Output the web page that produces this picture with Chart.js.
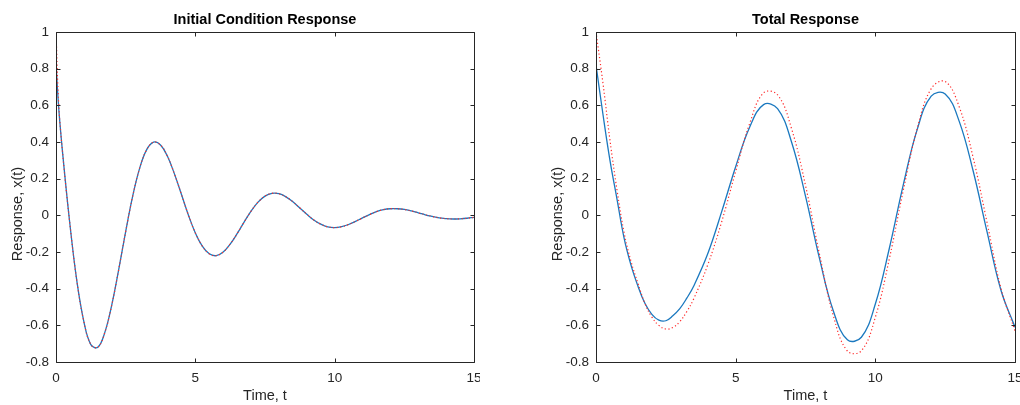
<!DOCTYPE html>
<html>
<head>
<meta charset="utf-8">
<script src="https://cdn.jsdelivr.net/npm/chart.js@4/dist/chart.umd.min.js"></script>
<style>
html, body { margin: 0; padding: 0; background: #fff; }
body { width: 1020px; height: 405px; position: relative; overflow: hidden; }
canvas { position: absolute; top: 0; }
#icChart { left: 0; }
#totalChart { left: 540px; }
</style>
</head>
<body>
<canvas id="icChart" width="480" height="405"></canvas>
<canvas id="totalChart" width="480" height="405"></canvas>
<script>
var xTicks = [0, 5, 10, 15];
var yTicks = [-0.8, -0.6, -0.4, -0.2, 0, 0.2, 0.4, 0.6, 0.8, 1];

// initial condition response
var icTime = [0, 0.1, 0.25, 0.5, 0.75, 1, 1.25, 1.5, 1.75, 2, 2.25, 2.5, 2.75, 3, 3.25, 3.5, 3.75, 4, 4.25, 4.5, 4.75,
    5, 5.25, 5.5, 5.75, 6, 6.25, 6.5, 6.75, 7, 7.25, 7.5, 7.75, 8, 8.25, 8.5, 8.75, 9, 9.25, 9.5, 9.75,
    10, 10.25, 10.5, 10.75, 11, 11.25, 11.5, 11.75, 12, 12.25, 12.5, 12.75, 13, 13.25, 13.5, 13.75, 14, 14.25, 14.5, 14.75, 15];
var icNumeric = [0.83, 0.58, 0.32, -0.05, -0.36, -0.58, -0.705, -0.72, -0.64, -0.49, -0.296, -0.089, 0.103, 0.256, 0.357, 0.399, 0.384, 0.322, 0.226, 0.115, 0.002,
    -0.096, -0.168, -0.21, -0.22, -0.2, -0.157, -0.1, -0.037, 0.023, 0.072, 0.105, 0.12, 0.118, 0.101, 0.074, 0.04, 0.006, -0.025, -0.048, -0.063,
    -0.067, -0.062, -0.05, -0.033, -0.014, 0.004, 0.02, 0.031, 0.036, 0.036, 0.032, 0.024, 0.014, 0.003, -0.006, -0.014, -0.018, -0.02, -0.019, -0.016, -0.011];
var icExact = [1.0, 0.6, 0.32, -0.05, -0.36, -0.58, -0.705, -0.72, -0.64, -0.49, -0.296, -0.089, 0.103, 0.256, 0.357, 0.399, 0.384, 0.322, 0.226, 0.115, 0.002,
    -0.096, -0.168, -0.21, -0.22, -0.2, -0.157, -0.1, -0.037, 0.023, 0.072, 0.105, 0.12, 0.118, 0.101, 0.074, 0.04, 0.006, -0.025, -0.048, -0.063,
    -0.067, -0.062, -0.05, -0.033, -0.014, 0.004, 0.02, 0.031, 0.036, 0.036, 0.032, 0.024, 0.014, 0.003, -0.006, -0.014, -0.018, -0.02, -0.019, -0.016, -0.011];

// total response
var totTime = [0, 0.25, 0.5, 0.75, 1, 1.25, 1.5, 1.75, 2, 2.25, 2.5, 2.75, 3, 3.25, 3.5, 4, 4.5, 5, 5.5, 6, 6.5, 7, 7.5, 8, 8.5, 9, 9.5,
    10, 10.5, 11, 11.5, 12, 12.5, 13, 13.5, 14, 14.5, 15];
var totNumeric = [0.82, 0.55, 0.30, 0.09, -0.12, -0.27, -0.385, -0.48, -0.54, -0.572, -0.575, -0.548, -0.509, -0.452, -0.385, -0.21, 0.02, 0.265, 0.48, 0.604, 0.582, 0.40, 0.105, -0.235, -0.523, -0.679, -0.665,
    -0.484, -0.181, 0.166, 0.469, 0.65, 0.662, 0.514, 0.243, -0.09, -0.41, -0.61];
var totExact = [1.0, 0.72, 0.41, 0.14, -0.09, -0.25, -0.37, -0.48, -0.555, -0.60, -0.62, -0.612, -0.58, -0.525, -0.455, -0.27, -0.035, 0.24, 0.50, 0.668, 0.657, 0.473, 0.163, -0.212, -0.549, -0.74, -0.739,
    -0.556, -0.238, 0.136, 0.474, 0.691, 0.73, 0.593, 0.316, -0.04, -0.40, -0.63];

var axisColor = '#262626';
var fontFamily = '"Liberation Sans", Arial, Helvetica, sans-serif';

function points(t, v) {
    return t.map(function(x, i) { return { x: x, y: v[i] }; });
}

// box round the axes, inward ticks, title and y label
var framePlugin = {
    id: 'frame',
    afterDatasetsDraw: function(chart, args, opts) {
        var ctx = chart.ctx, a = chart.chartArea;
        var xs = chart.scales.x, ys = chart.scales.y;
        var L = Math.round(a.left) + 0.5, R = Math.round(a.right) + 0.5;
        var T = Math.round(a.top) + 0.5, B = Math.round(a.bottom) + 0.5;
        ctx.save();
        ctx.strokeStyle = axisColor;
        ctx.lineWidth = 1;
        ctx.beginPath();
        ctx.rect(L, T, R - L, B - T);
        xTicks.forEach(function(v) {
            var px = Math.round(xs.getPixelForValue(v)) + 0.5;
            ctx.moveTo(px, B); ctx.lineTo(px, B - 4);
            ctx.moveTo(px, T); ctx.lineTo(px, T + 4);
        });
        yTicks.forEach(function(v) {
            var py = Math.round(ys.getPixelForValue(v)) + 0.5;
            ctx.moveTo(L, py); ctx.lineTo(L + 4, py);
            ctx.moveTo(R, py); ctx.lineTo(R - 4, py);
        });
        ctx.stroke();

        ctx.fillStyle = '#000';
        ctx.font = 'bold 14.5px ' + fontFamily;
        ctx.textAlign = 'center';
        ctx.textBaseline = 'middle';
        ctx.fillText(opts.text, (a.left + a.right) / 2, 20);

        ctx.fillStyle = axisColor;
        ctx.font = '14.5px ' + fontFamily;
        ctx.translate(18, 214);
        ctx.rotate(-Math.PI / 2);
        ctx.fillText(opts.yLabel, 0, 0);
        ctx.restore();
    }
};

function makeChart(id, title, time, numeric, exact, padRight) {
    return new Chart(document.getElementById(id).getContext('2d'), {
        type: 'line',
        data: {
            datasets: [{
                label: 'exact',
                data: points(time, exact),
                borderColor: '#ff2a2a',
                borderWidth: 1.2,
                borderDash: [1.2, 2.4],
                pointRadius: 0,
                tension: 0.4,
                fill: false
            }, {
                label: 'numeric',
                data: points(time, numeric),
                borderColor: '#1a78bf',
                borderWidth: 1.3,
                pointRadius: 0,
                tension: 0.4,
                fill: false
            }]
        },
        options: {
            responsive: false,
            animation: false,
            events: [],
            layout: { padding: { top: 32, right: padRight, bottom: 0, left: 0 } },
            plugins: {
                legend: { display: false },
                tooltip: { enabled: false },
                frame: { text: title, yLabel: 'Response, x(t)' }
            },
            scales: {
                x: {
                    type: 'linear', min: 0, max: 15,
                    grid: { display: false, drawTicks: false, tickLength: 0 },
                    border: { display: false },
                    afterBuildTicks: function(s) { s.ticks = xTicks.map(function(v) { return { value: v }; }); },
                    afterFit: function(s) { s.height = 43; s.paddingLeft = 0; s.paddingRight = 0; },
                    ticks: {
                        color: axisColor, padding: 8, maxRotation: 0, autoSkip: false,
                        font: { family: fontFamily, size: 13.5 },
                        callback: function(v) { return String(v); }
                    },
                    title: {
                        display: true, text: 'Time, t', color: axisColor,
                        font: { family: fontFamily, size: 14.5 },
                        padding: { top: 0, bottom: 0 }
                    }
                },
                y: {
                    type: 'linear', min: -0.8, max: 1,
                    grid: { display: false, drawTicks: false, tickLength: 0 },
                    border: { display: false },
                    afterBuildTicks: function(s) { s.ticks = yTicks.map(function(v) { return { value: v }; }); },
                    afterFit: function(s) { s.width = 56; s.paddingTop = 0; s.paddingBottom = 0; },
                    ticks: {
                        color: axisColor, padding: 7, autoSkip: false,
                        font: { family: fontFamily, size: 13.5 },
                        callback: function(v) { return String(Math.round(v * 10) / 10); }
                    }
                }
            }
        },
        plugins: [framePlugin]
    });
}

makeChart('icChart', 'Initial Condition Response', icTime, icNumeric, icExact, 6);
makeChart('totalChart', 'Total Response', totTime, totNumeric, totExact, 5);
</script>
</body>
</html>
